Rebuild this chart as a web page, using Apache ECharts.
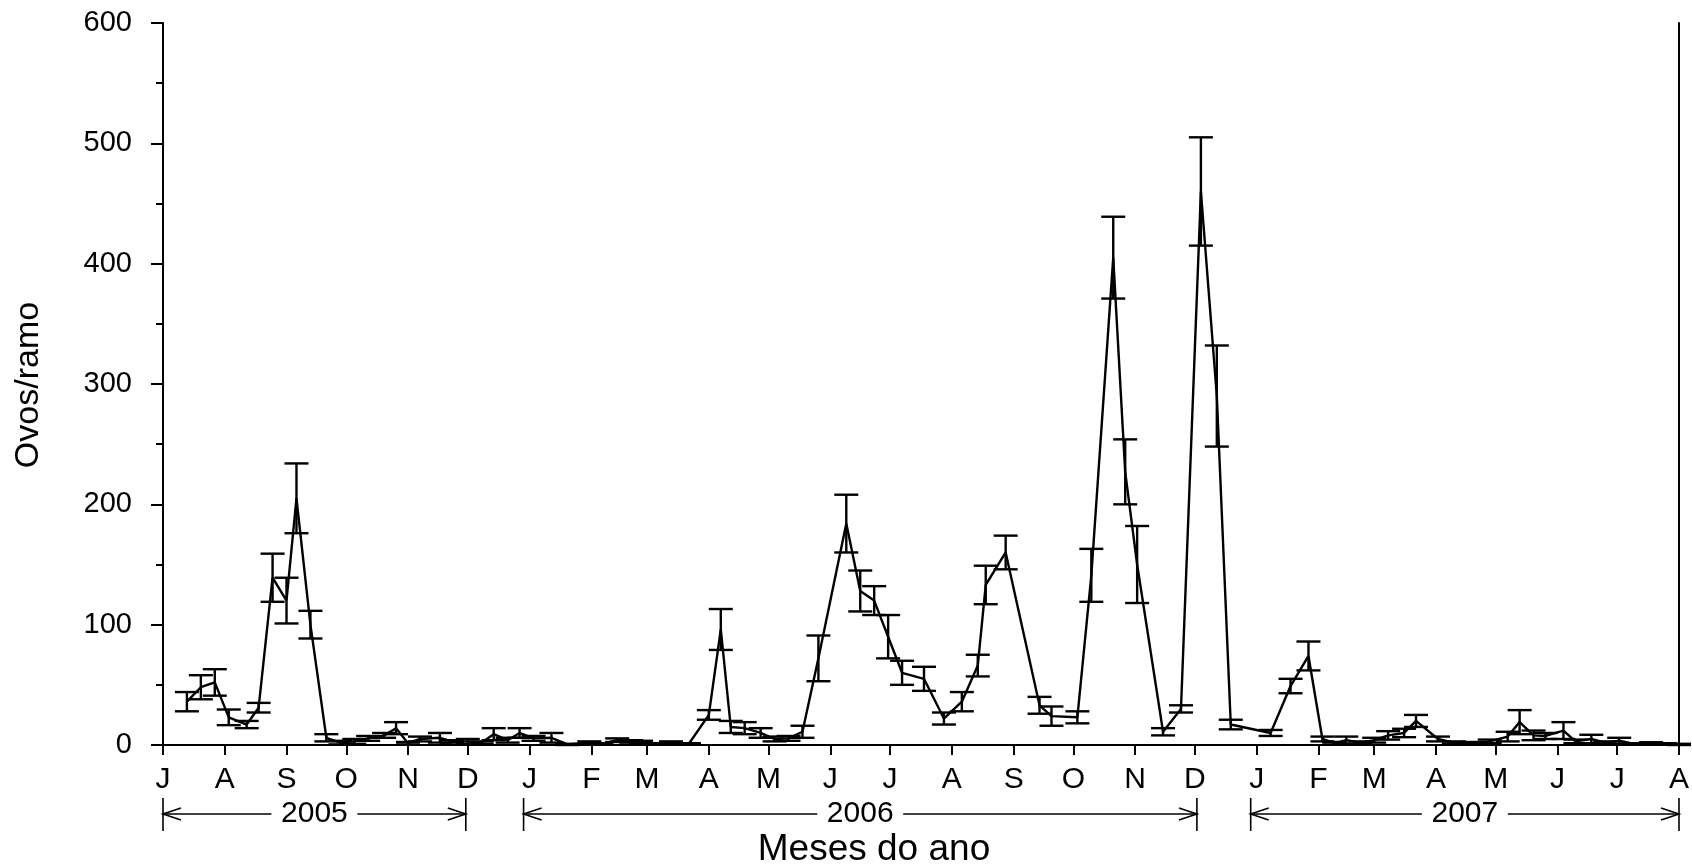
<!DOCTYPE html>
<html>
<head>
<meta charset="utf-8">
<script src="https://cdn.jsdelivr.net/npm/echarts@6/dist/echarts.min.js"></script>
<style>
  html, body { margin: 0; padding: 0; background: #fff; }
  #chart { width: 1692px; height: 866px; }
</style>
</head>
<body>
<div id="chart"></div>
<script>
// sampling dates (one per collection)
var sampleDates = [
  '2005-07-13','2005-07-20','2005-07-27','2005-08-03','2005-08-12','2005-08-18','2005-08-25','2005-09-01',
  '2005-09-06','2005-09-13','2005-09-21','2005-09-28','2005-10-05','2005-10-12','2005-10-20','2005-10-26',
  '2005-11-01','2005-11-07','2005-11-17','2005-11-23','2005-12-01','2005-12-08','2005-12-14','2005-12-21',
  '2005-12-27','2006-01-03','2006-01-12','2006-01-20','2006-01-31','2006-02-06','2006-02-14','2006-02-21',
  '2006-02-26','2006-03-05','2006-03-13','2006-03-22','2006-04-01','2006-04-07','2006-04-12','2006-04-19',
  '2006-04-27','2006-05-04','2006-05-11','2006-05-18','2006-05-26','2006-06-09','2006-06-16','2006-06-23',
  '2006-06-30','2006-07-07','2006-07-18','2006-07-28','2006-08-06','2006-08-14','2006-08-18','2006-08-28',
  '2006-09-14','2006-09-20','2006-10-03','2006-10-10','2006-10-21','2006-10-27','2006-11-02','2006-11-15',
  '2006-11-24','2006-12-04','2006-12-12','2006-12-19','2007-01-08','2007-01-18','2007-01-27','2007-02-03',
  '2007-02-09','2007-02-15','2007-02-22','2007-03-01','2007-03-08','2007-03-16','2007-03-22','2007-04-02',
  '2007-04-10','2007-04-19','2007-04-28','2007-05-07','2007-05-13','2007-05-20','2007-05-26','2007-06-04',
  '2007-06-10','2007-06-18','2007-06-25','2007-07-02','2007-07-09','2007-07-18','2007-07-25','2007-08-01'
];
// mean eggs per branch
var eggMeans = [
  36, 48, 52, 23, 17, 31, 139, 120,
  205, 100, 6, 2, 3, 5.5, 8, 14,
  1.5, 5, 6, 3, 3, 2, 9, 4,
  10, 5.5, 6, 0.5, 2, 1, 4, 3,
  2.5, 1, 2, 1, 25, 96, 15, 14,
  10, 5, 5.5, 11, 72, 184, 128, 120,
  90, 60, 55, 22, 36, 66, 133, 160,
  33, 24, 23, 141, 405, 227, 150, 11,
  30, 460, 290, 17, 10, 49, 74, 5,
  1.5, 4, 2, 4, 8, 10, 20, 5,
  2, 1.5, 3, 7, 19, 8, 7.5, 12,
  3, 5, 2, 3.5, 1, 1.5, 1, 0.5
];
// standard error
var eggErrors = [
  8, 10, 11, 6.5, 3, 4, 20, 19,
  29, 11.5, 3, 1.5, 2, 2, 2, 5,
  1, 2, 4, 1, 2, 1, 5, 2,
  4, 2, 4, 0.5, 1, 0.5, 1.5, 1,
  1, 0.5, 1, 0.5, 4, 17, 5, 5,
  4, 2, 2, 5, 19, 24, 17, 12,
  18, 10, 10, 5, 8, 9, 16, 14,
  7, 8, 5, 22, 34, 27, 32, 3,
  3, 45, 42, 4, 2.5, 6, 12, 2,
  1, 3, 1, 2, 3.5, 3.5, 5, 2,
  1, 1, 1.5, 4, 10, 4, 2.5, 7,
  1.5, 3.5, 1, 2.5, 0.5, 0.8, 0.5, 0.5
];
var monthLetters = ['J','F','M','A','M','J','J','A','S','O','N','D'];
var yearLabels = ['2005', '2006', '2007'];
var yearStarts = ['2005-07-01', '2005-12-29', '2006-12-29'];
var yearEnds = ['2005-11-30', '2006-12-02', '2007-08-01'];
var axisStart = '2005-07-01';
var axisEnd = '2007-08-01';

// x axis runs in days counted from axisStart
var DAY = 86400000;
function utc(s) {
  var p = s.split('-');
  return Date.UTC(+p[0], +p[1] - 1, +p[2]);
}
function toDay(s) {
  return Math.round((utc(s) - utc(axisStart)) / DAY);
}

var monthTicks = [];
var monthOfTick = {};
var s0 = new Date(utc(axisStart));
for (var k = 0; ; k++) {
  var t = Date.UTC(s0.getUTCFullYear(), s0.getUTCMonth() + k, 1);
  var dd = Math.round((t - utc(axisStart)) / DAY);
  if (dd > toDay(axisEnd)) break;
  monthTicks.push(dd);
  monthOfTick[dd] = new Date(t).getUTCMonth();
}

var lineData = sampleDates.map(function (s, i) { return [toDay(s), eggMeans[i]]; });
var errData = sampleDates.map(function (s, i) {
  return [toDay(s), Math.max(0, eggMeans[i] - eggErrors[i]), eggMeans[i] + eggErrors[i]];
});

var font = 'Liberation Sans, Arial, sans-serif';
var black = '#000';

var chart = echarts.init(document.getElementById('chart'));
chart.setOption({
  animation: false,
  backgroundColor: '#fff',
  grid: { left: 163, right: 11, top: 23, bottom: 121 },
  xAxis: {
    type: 'value',
    min: 0,
    max: toDay(axisEnd),
    axisLine: { lineStyle: { color: black, width: 2 } },
    axisTick: { customValues: monthTicks, length: 10, lineStyle: { color: black, width: 2 } },
    axisLabel: {
      customValues: monthTicks,
      formatter: function (v) { return monthLetters[monthOfTick[Math.round(v)]]; },
      color: black, fontSize: 30, fontFamily: font, margin: 20,
      showMinLabel: true, showMaxLabel: true, hideOverlap: false
    },
    splitLine: { show: false }
  },
  yAxis: [{
    type: 'value',
    min: 0, max: 600, interval: 100,
    axisLine: { show: true, lineStyle: { color: black, width: 2 } },
    axisTick: { show: true, length: 12, lineStyle: { color: black, width: 2 } },
    minorTick: { show: true, splitNumber: 2, length: 7, lineStyle: { color: black, width: 2 } },
    axisLabel: { color: black, fontSize: 29, fontFamily: font, margin: 31 },
    splitLine: { show: false }
  }, {
    type: 'value',
    position: 'right',
    min: 0, max: 600,
    axisLine: { show: true, lineStyle: { color: black, width: 2 } },
    axisTick: { show: false },
    axisLabel: { show: false },
    splitLine: { show: false }
  }],
  series: [{
    type: 'line',
    data: lineData,
    showSymbol: false,
    lineStyle: { color: black, width: 2.4 },
    z: 3
  }, {
    type: 'custom',
    data: errData,
    encode: { x: 0, y: [1, 2] },
    z: 4,
    renderItem: function (params, api) {
      var x = api.value(0);
      var lo = api.coord([x, api.value(1)]);
      var hi = api.coord([x, api.value(2)]);
      var half = 12;
      var st = { stroke: black, lineWidth: 2.4 };
      return {
        type: 'group',
        children: [
          { type: 'line', shape: { x1: lo[0], y1: lo[1], x2: hi[0], y2: hi[1] }, style: st },
          { type: 'line', shape: { x1: hi[0] - half, y1: hi[1], x2: hi[0] + half, y2: hi[1] }, style: st },
          { type: 'line', shape: { x1: lo[0] - half, y1: lo[1], x2: lo[0] + half, y2: lo[1] }, style: st }
        ]
      };
    }
  }]
});

// year brackets below the month labels, placed with the axis scale
var graphics = [];
var by = 814, gap = 43, head = 18, wing = 6;
var lineSt = { stroke: black, lineWidth: 1.6, fill: null };
yearLabels.forEach(function (label, i) {
  var x1 = chart.convertToPixel({ xAxisIndex: 0 }, toDay(yearStarts[i]));
  var x2 = chart.convertToPixel({ xAxisIndex: 0 }, toDay(yearEnds[i]));
  var cx = (x1 + x2) / 2;
  graphics.push(
    { type: 'line', shape: { x1: x1, y1: by - 16, x2: x1, y2: by + 17 }, style: lineSt },
    { type: 'line', shape: { x1: x2, y1: by - 16, x2: x2, y2: by + 17 }, style: lineSt },
    { type: 'line', shape: { x1: x1, y1: by, x2: cx - gap, y2: by }, style: lineSt },
    { type: 'line', shape: { x1: cx + gap, y1: by, x2: x2, y2: by }, style: lineSt },
    { type: 'polyline', shape: { points: [[x1 + head, by - wing], [x1, by], [x1 + head, by + wing]] }, style: lineSt },
    { type: 'polyline', shape: { points: [[x2 - head, by - wing], [x2, by], [x2 - head, by + wing]] }, style: lineSt },
    { type: 'text', x: cx, y: by, style: { text: label, font: '30px ' + font, fill: black, align: 'center', verticalAlign: 'middle' } }
  );
});
graphics.push(
  { type: 'text', x: 874, y: 850, style: { text: 'Meses do ano', font: '37px ' + font, fill: black, align: 'center', verticalAlign: 'middle' } },
  { type: 'text', x: 29, y: 385, rotation: Math.PI / 2, style: { text: 'Ovos/ramo', font: '34px ' + font, fill: black, align: 'center', verticalAlign: 'middle' } }
);
chart.setOption({ graphic: graphics });
</script>
</body>
</html>
